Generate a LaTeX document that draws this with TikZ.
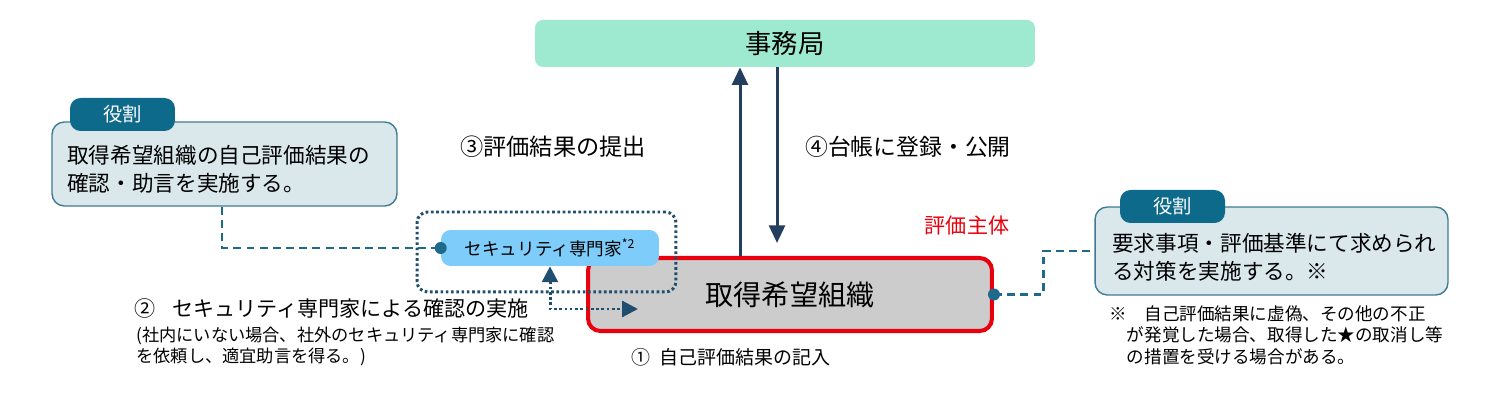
\documentclass[tikz,border=0pt]{standalone}
\usepackage{fontspec}
\setmainfont{Noto Sans CJK JP}
\usetikzlibrary{arrows.meta}

\definecolor{mintfill}{RGB}{158,234,208}
\definecolor{orggray}{RGB}{204,204,204}
\definecolor{orgred}{RGB}{232,0,12}
\definecolor{navyline}{RGB}{36,62,95}
\definecolor{skyfill}{RGB}{125,204,250}
\definecolor{dotnavy}{RGB}{31,78,110}
\definecolor{rolefill}{RGB}{218,232,236}
\definecolor{roleedge}{RGB}{62,122,146}
\definecolor{tabfill}{RGB}{14,106,138}
\definecolor{tealdash}{RGB}{31,106,138}

\tikzset{
  rolebox/.style={draw=roleedge, line width=0.8pt, fill=rolefill, rounded corners=7pt, inner sep=0pt},
  roletab/.style={fill=tabfill, text=white, rounded corners=6pt, inner sep=0pt,
    minimum width=2.1cm, minimum height=0.66cm, font=\fontsize{11}{13}\selectfont},
  roletext/.style={anchor=west, align=left, inner sep=0pt, font=\fontsize{12.3}{15.9}\selectfont},
  steplabel/.style={inner sep=0pt, font=\fontsize{13}{15}\selectfont},
  navyarrow/.style={navyline, line width=1.7pt, -{Triangle[width=9pt,length=10pt]}},
  dashlink/.style={tealdash, line width=1.7pt, dash pattern=on 4.5pt off 3pt},
  dotline/.style={dotnavy, line width=1.7pt, dash pattern=on 1.5pt off 1.5pt},
  linkdot/.style={circle, fill=tealdash, inner sep=0pt, minimum size=0.24cm}
}

\begin{document}
\begin{tikzpicture}[x=0.02cm, y=-0.02cm]
  \useasboundingbox (0,0) rectangle (1493,411);

  % secretariat and applicant
  \node[fill=mintfill, rounded corners=4.5pt, minimum width=10cm, minimum height=0.94cm,
    inner sep=0pt, font=\fontsize{15}{18}\selectfont] (jimu) at (785,43.5) {事務局};
  \node[draw=orgred, line width=2.3pt, fill=orggray, rounded corners=7pt, minimum width=8.08cm,
    minimum height=1.46cm, inner sep=0pt, font=\fontsize{16}{19}\selectfont] (org) at (790,294.5) {取得希望組織};
  \node[text=orgred, steplabel, font=\fontsize{12}{14}\selectfont] (subject) at (967,226) {評価主体};

  % expert
  \node[fill=skyfill, rounded corners=5.5pt, minimum width=4.36cm, minimum height=0.72cm,
    inner sep=0pt, font=\fontsize{10}{12}\selectfont] (expert) at (550,248) {セキュリティ専門家\textsuperscript{*2}};
  \node[dotline, draw, rounded corners=6pt, minimum width=5.18cm, minimum height=1.6cm,
    inner sep=0pt] (exgroup) at (546.5,252) {};

  % left role
  \node[rolebox, minimum width=6.9cm, minimum height=1.68cm] (roleL) at (224.5,164) {};
  \node[roletab] (tabL) at (122.5,114.5) {役割};
  \node[roletext] (roleLtxt) at (67,169) {取得希望組織の自己評価結果の\\確認・助言を実施する。};

  % right role
  \node[rolebox, minimum width=7.06cm, minimum height=1.76cm] (roleR) at (1271.5,251) {};
  \node[roletab] (tabR) at (1172.5,206.5) {役割};
  \node[roletext] (roleRtxt) at (1112,257.5) {要求事項・評価基準にて求められ\\る対策を実施する。※};

  % notes
  \node[anchor=north west, align=left, inner sep=0pt, font=\fontsize{10}{12.4}\selectfont] (note) at (1109,305)
    {※\hspace{1em}自己評価結果に虚偽、その他の不正\\\hspace{1em}が発覚した場合、取得した★の取消し等\\\hspace{1em}の措置を受ける場合がある。};
  \node[anchor=north west, inner sep=0pt, font=\fontsize{12}{14}\selectfont] (step2) at (134,298)
    {②\hspace{0.8em}セキュリティ専門家による確認の実施};
  \node[anchor=north west, align=left, inner sep=0pt, font=\fontsize{9.8}{12}\selectfont] (step2note) at (136,327)
    {(社内にいない場合、社外のセキュリティ専門家に確認\\を依頼し、適宜助言を得る。)};
  \node[steplabel, font=\fontsize{10.8}{13}\selectfont] (step1) at (731,357) {①\hspace{0.5em}自己評価結果の記入};
  \node[steplabel, font=\fontsize{13.2}{15}\selectfont] (step3) at (553,147) {③評価結果の提出};
  \node[steplabel] (step4) at (908,147) {④台帳に登録・公開};

  % connectors
  \coordinate (upx) at (740,0);
  \coordinate (downend) at (777,243);
  \coordinate (dotend) at (638,309);
  \coordinate (bendR) at (1043,0);
  \coordinate (bendL) at (222,0);
  \draw[navyarrow] (org.north -| upx) -- (jimu.south -| upx);
  \draw[navyarrow] (jimu.south -| downend) -- (downend);
  \draw[dotline, {Triangle[width=9pt,length=9pt]}-{Triangle[width=9pt,length=9pt]}] (expert.south) |- (dotend);
  \draw[dashlink] (roleL.south -| bendL) |- (expert.west);
  \node[linkdot] (dotL) at (expert.west) {};
  \draw[dashlink] (org.east) -- (org.east -| bendR) |- (roleR.west);
  \node[linkdot] (dotR) at (org.east) {};
\end{tikzpicture}
\end{document}
